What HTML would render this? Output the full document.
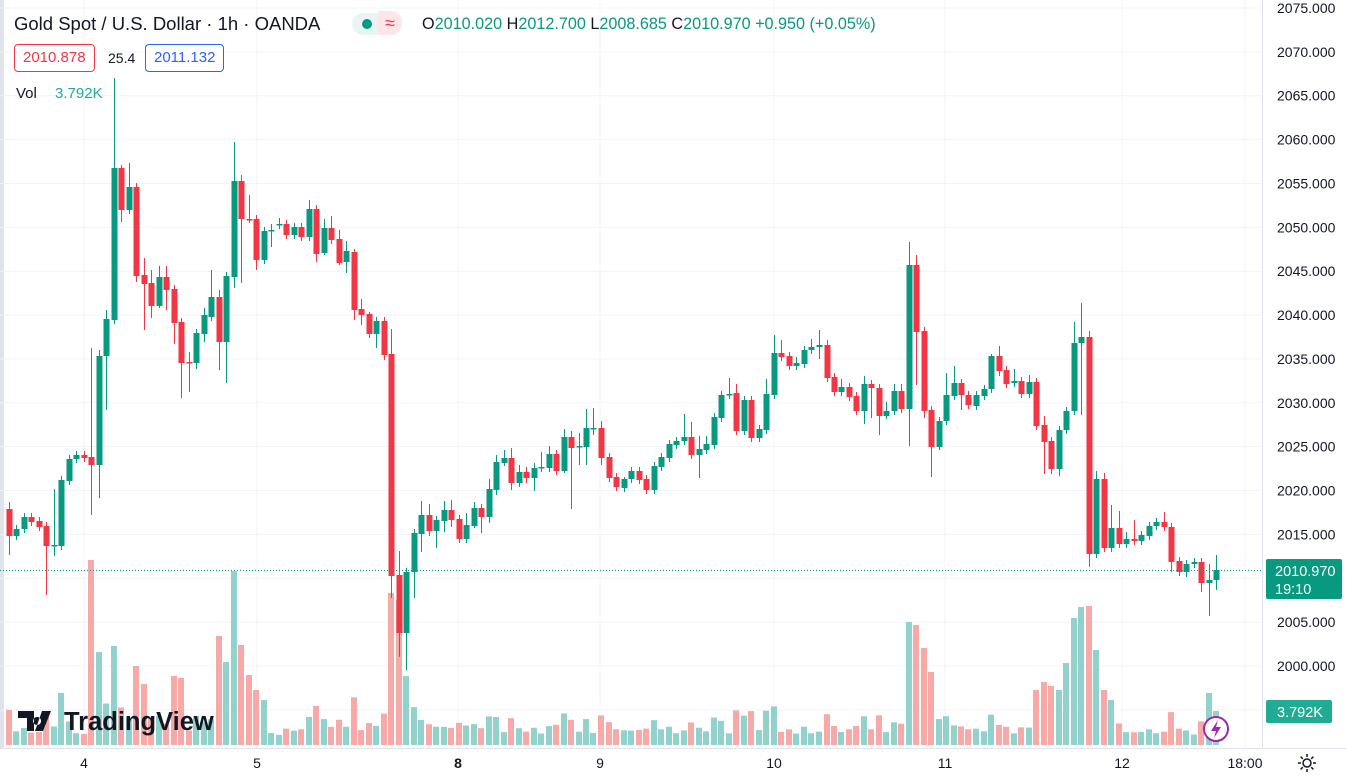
<!DOCTYPE html>
<html><head><meta charset="utf-8"><style>
html,body{margin:0;padding:0;background:#fff;width:1346px;height:780px;overflow:hidden;font-family:"Liberation Sans",sans-serif;}
#c{position:absolute;left:0;top:0}
.hd{position:absolute;font-size:15px;color:#131722;white-space:nowrap}
.box{position:absolute;height:26px;line-height:26px;font-size:15px;border:1px solid;border-radius:4px;padding:0 8px;background:#fff}
</style></head><body>
<svg id="c" width="1346" height="780" xmlns="http://www.w3.org/2000/svg"></svg>
<div class="hd" style="left:14px;top:13px;font-size:18.5px">Gold Spot / U.S. Dollar · 1h · OANDA</div>
<div style="position:absolute;left:352px;top:13px;width:50px;height:22px;border-radius:11px;background:#e9f5f2"></div>
<div style="position:absolute;left:362px;top:19px;width:10px;height:10px;border-radius:5px;background:#089981"></div>
<div style="position:absolute;left:378px;top:11px;width:24px;height:24px;border-radius:0 11px 11px 0;background:#fde6e8;color:#f23645;font-size:18px;line-height:24px;text-align:center">≈</div>
<div class="hd" style="left:422px;top:15px;font-size:16.2px;color:#089981"><span style="color:#131722">O</span>2010.020 <span style="color:#131722">H</span>2012.700 <span style="color:#131722">L</span>2008.685 <span style="color:#131722">C</span>2010.970 +0.950 (+0.05%)</div>
<div class="box" style="left:14px;top:44px;color:#f23645;border-color:#f23645">2010.878</div>
<div class="hd" style="left:108px;top:50px;font-size:14px">25.4</div>
<div class="box" style="left:145px;top:44px;color:#2962ff;border-color:#2962ff">2011.132</div>
<div class="hd" style="left:16px;top:85px;font-size:15px">Vol <span style="color:#22ab94;margin-left:14px">3.792K</span></div>
<script>
var S=document.getElementById('c'),h='';
function y(p){return 8+(2075-p)*8.773;}
h+='<rect x="0" y="0" width="4" height="748" fill="#e0e3eb"/>';
for(var p=2075;p>=1995;p-=5){var yy=y(p);h+='<line x1="0" x2="1262" y1="'+yy+'" y2="'+yy+'" stroke="#f0f3fa"/>';}
[84,257,458,600,774,945,1122,1245].forEach(function(x){h+='<line x1="'+x+'" x2="'+x+'" y1="0" y2="748" stroke="#f0f3fa"/>';});
var D=[[9,509,536,'r',502,555],[16,536,529,'g'],[24,529,517,'g'],[31,517,522,'r'],[39,521,527,'r'],[46,526,546,'r',0,595],[54,546,545,'g',489,556],[61,546,480,'g'],[69,481,459,'g'],[76,459,455,'g'],[84,455,458,'r'],[91,457,465,'r',348,515],[99,465,356,'g',350,498],[106,356,319,'g',310,410],[114,320,168,'g',78],[121,168,210,'r',165,222],[129,210,187,'g',163],[136,187,276,'r',183,282],[144,275,284,'r',258,330],[151,283,306,'r',270,318],[159,306,277,'g',266,308],[166,277,290,'r',266,310],[174,289,323,'r',0,344],[181,322,363,'r',0,398],[189,362,363,'r',352,392],[196,363,333,'g',0,369],[204,334,315,'g',308,342],[211,317,297,'g',270],[219,297,342,'r',290,370],[226,342,276,'g',0,383],[234,277,181,'g',142,288],[241,181,219,'r',175,283],[249,219,219,'r',195],[256,219,260,'r',215,270],[264,260,231,'g'],[271,231,230,'g',224,247],[279,225,224,'g',218],[286,224,235,'r'],[294,235,227,'g'],[301,227,237,'r'],[309,237,209,'g',200],[316,209,254,'r',205,262],[324,253,228,'g',219,255],[331,228,240,'r',216],[339,239,263,'r',230,265],[346,262,251,'g',241,273],[354,252,310,'r',249,320],[361,309,315,'r',299,325],[369,314,334,'r',312,338],[376,334,321,'g',0,348],[384,321,355,'r',0,360],[391,354,576,'r',329,598],[399,575,633,'r',551,657],[406,633,572,'g',0,670],[414,572,533,'g',0,598],[421,534,515,'g',501,552],[429,515,531,'r',504,536],[436,531,520,'g',0,548],[444,521,510,'g',501,532],[451,510,520,'r',500,527],[459,519,539,'r'],[466,539,525,'g',513],[474,526,508,'g',502,528],[481,508,517,'r',504,533],[489,517,489,'g',479,523],[496,490,462,'g',455,495],[504,463,458,'g',450,466],[511,458,483,'r',448,490],[519,483,472,'g',465,487],[526,472,478,'r',467,483],[534,478,468,'g',463,491],[541,468,467,'g',452,472],[549,468,454,'g',446],[556,454,471,'r'],[564,471,437,'g',429,473],[571,437,448,'r',431,509],[579,447,446,'g',433,465],[586,447,428,'g',409,465],[593,428,428,'g',408,435],[601,428,458,'r',421,465],[609,457,478,'r'],[616,477,487,'r'],[624,488,479,'g',477],[631,479,471,'g'],[639,471,480,'r'],[646,479,490,'r'],[654,490,466,'g'],[661,467,457,'g'],[669,458,444,'g'],[676,445,441,'g'],[684,441,437,'g',414],[691,437,455,'r',422],[699,455,449,'g',436,478],[706,450,444,'g',436],[714,445,417,'g'],[721,418,395,'g'],[729,395,394,'g',378],[736,393,431,'r',384],[744,431,400,'g'],[751,400,438,'r'],[759,438,429,'g'],[766,430,394,'g',379],[774,395,353,'g',335],[781,353,357,'r',340],[789,356,366,'r'],[796,366,363,'g',357],[804,364,350,'g',346],[811,350,347,'g',339],[819,347,345,'g',330,359],[827,345,378,'r',340],[834,377,392,'r'],[841,392,387,'g',379],[849,387,397,'r'],[856,396,411,'r'],[864,411,384,'g',376,424],[871,384,388,'r',0,418],[879,388,416,'r',0,435],[886,416,411,'g',402,419],[894,411,391,'g',384],[901,391,409,'r',384],[909,409,265,'g',242,446],[916,265,332,'r',255,385],[924,331,411,'r',0,418],[931,410,447,'r',0,477],[939,447,421,'g',0,450],[946,421,395,'g',373],[954,396,383,'g',366],[961,383,395,'r',379,410],[968,395,405,'r'],[976,406,395,'g'],[984,396,389,'g'],[991,389,356,'g',354],[999,356,371,'r',346,376],[1006,370,384,'r'],[1014,383,381,'g',369],[1021,381,394,'r'],[1029,394,382,'g',375],[1036,382,426,'r',378],[1044,425,442,'r',416,474],[1051,441,469,'r',0,474],[1059,469,430,'g',0,476],[1066,430,411,'g'],[1074,411,343,'g',322],[1081,343,337,'g',303,415],[1089,337,554,'r',331,567],[1096,554,479,'g',471],[1104,479,548,'r',473],[1111,548,528,'g',505,552],[1119,528,544,'r',511],[1126,544,539,'g',532],[1134,539,541,'r',520],[1141,541,535,'g'],[1149,536,526,'g'],[1156,526,522,'g'],[1164,522,527,'r',512],[1171,527,562,'r',0,572],[1179,561,572,'r'],[1186,572,564,'g',0,577],[1194,564,562,'g',558],[1201,562,583,'r',0,592],[1209,583,580,'g',564,616],[1216,580,570,'g',555,590]];
var V={9:710,91:560,99:652,114:646,136:666,144:684,174:676,181:678,219:636,226:662,234:571,241:645,249:675,256:690,264:700,391:593,399:600,406:676,909:622,916:625,924:648,931:672,1036:690,1044:682,1051:686,1059:690,1066:663,1074:618,1081:607,1089:606,1096:650,1104:690,1111:700,1209:693,1216:711};
var vb='',cb='';
D.forEach(function(d){var x=d[0],o=d[1],c=d[2],g=d[3]=='g';var t=Math.min(o,c),b=Math.max(o,c);
var hi=d[4]||t-4,lo=d[5]||b+4;var col=g?'#089981':'#f23645';
var vt=V[x]||(745-Math.min(55,8+Math.abs(o-c)*0.5+(lo-hi)*0.15));
vb+='<rect x="'+(x-3)+'" y="'+vt+'" width="6" height="'+(745-vt)+'" fill="'+(g?'#92d2cc':'#f7a9a7')+'"/>';
cb+='<line x1="'+(x+0.5)+'" x2="'+(x+0.5)+'" y1="'+hi+'" y2="'+lo+'" stroke="'+col+'"/>';
cb+='<rect x="'+(x-2.5)+'" y="'+t+'" width="6" height="'+Math.max(1.5,b-t)+'" fill="'+col+'"/>';});
h+=vb+cb;
h+='<line x1="0" x2="1262" y1="570.5" y2="570.5" stroke="#089981" stroke-dasharray="1,2"/>';
h+='<rect x="1262" y="0" width="84" height="780" fill="#fff"/><line x1="1262.5" x2="1262.5" y1="0" y2="748" stroke="#e0e3eb"/><rect x="0" y="748" width="1346" height="32" fill="#fff"/><line x1="0" x2="1346" y1="748.5" y2="748.5" stroke="#e0e3eb"/>';
for(var p=2075;p>=2000;p-=5){h+='<text x="1277" y="'+(y(p)+5)+'" font-size="14" fill="#131722">'+p+'.000</text>';}
h+='<rect x="1266" y="559" width="76" height="40" rx="2" fill="#089981"/><text x="1275" y="576" font-size="14.5" fill="#fff">2010.970</text><text x="1275" y="594" font-size="14.5" fill="#fff">19:10</text>';
h+='<rect x="1266" y="700" width="66" height="23" rx="2" fill="#22ab94"/><text x="1277" y="717" font-size="14.5" fill="#fff">3.792K</text>';
[['4',84],['5',257],['8',458],['9',600],['10',774],['11',945],['12',1122],['18:00',1245]].forEach(function(l){h+='<text x="'+l[1]+'" y="768" font-size="14" text-anchor="middle" fill="#131722"'+(l[0]=='8'?' font-weight="bold"':'')+'>'+l[0]+'</text>';});
h+='<g transform="translate(1307,763)" fill="none" stroke="#131722" stroke-width="1.5"><circle r="4"/><path d="M0,-9V-6M0,6V9M-9,0H-6M6,0H9M-6.4,-6.4L-4.2,-4.2M4.2,4.2L6.4,6.4M-6.4,6.4L-4.2,4.2M4.2,-4.2L6.4,-6.4"/></g>';
h+='<circle cx="1216" cy="729" r="12" fill="#fff" stroke="#9c27b0" stroke-width="2"/><path d="M1218,720L1211,731H1216L1214,738L1221,727H1216Z" fill="#9c27b0"/>';
h+='<g transform="translate(18,709)"><path d="M0,2H16V22H9V9H0Z M19,8a4,4 0 1 0 0.1,0Z M24,2H33L25,22H17Z" fill="#131722"/><text x="46" y="21" font-size="25.5" font-weight="bold" fill="#131722">TradingView</text></g>';
S.innerHTML=h;
</script>
</body></html>
